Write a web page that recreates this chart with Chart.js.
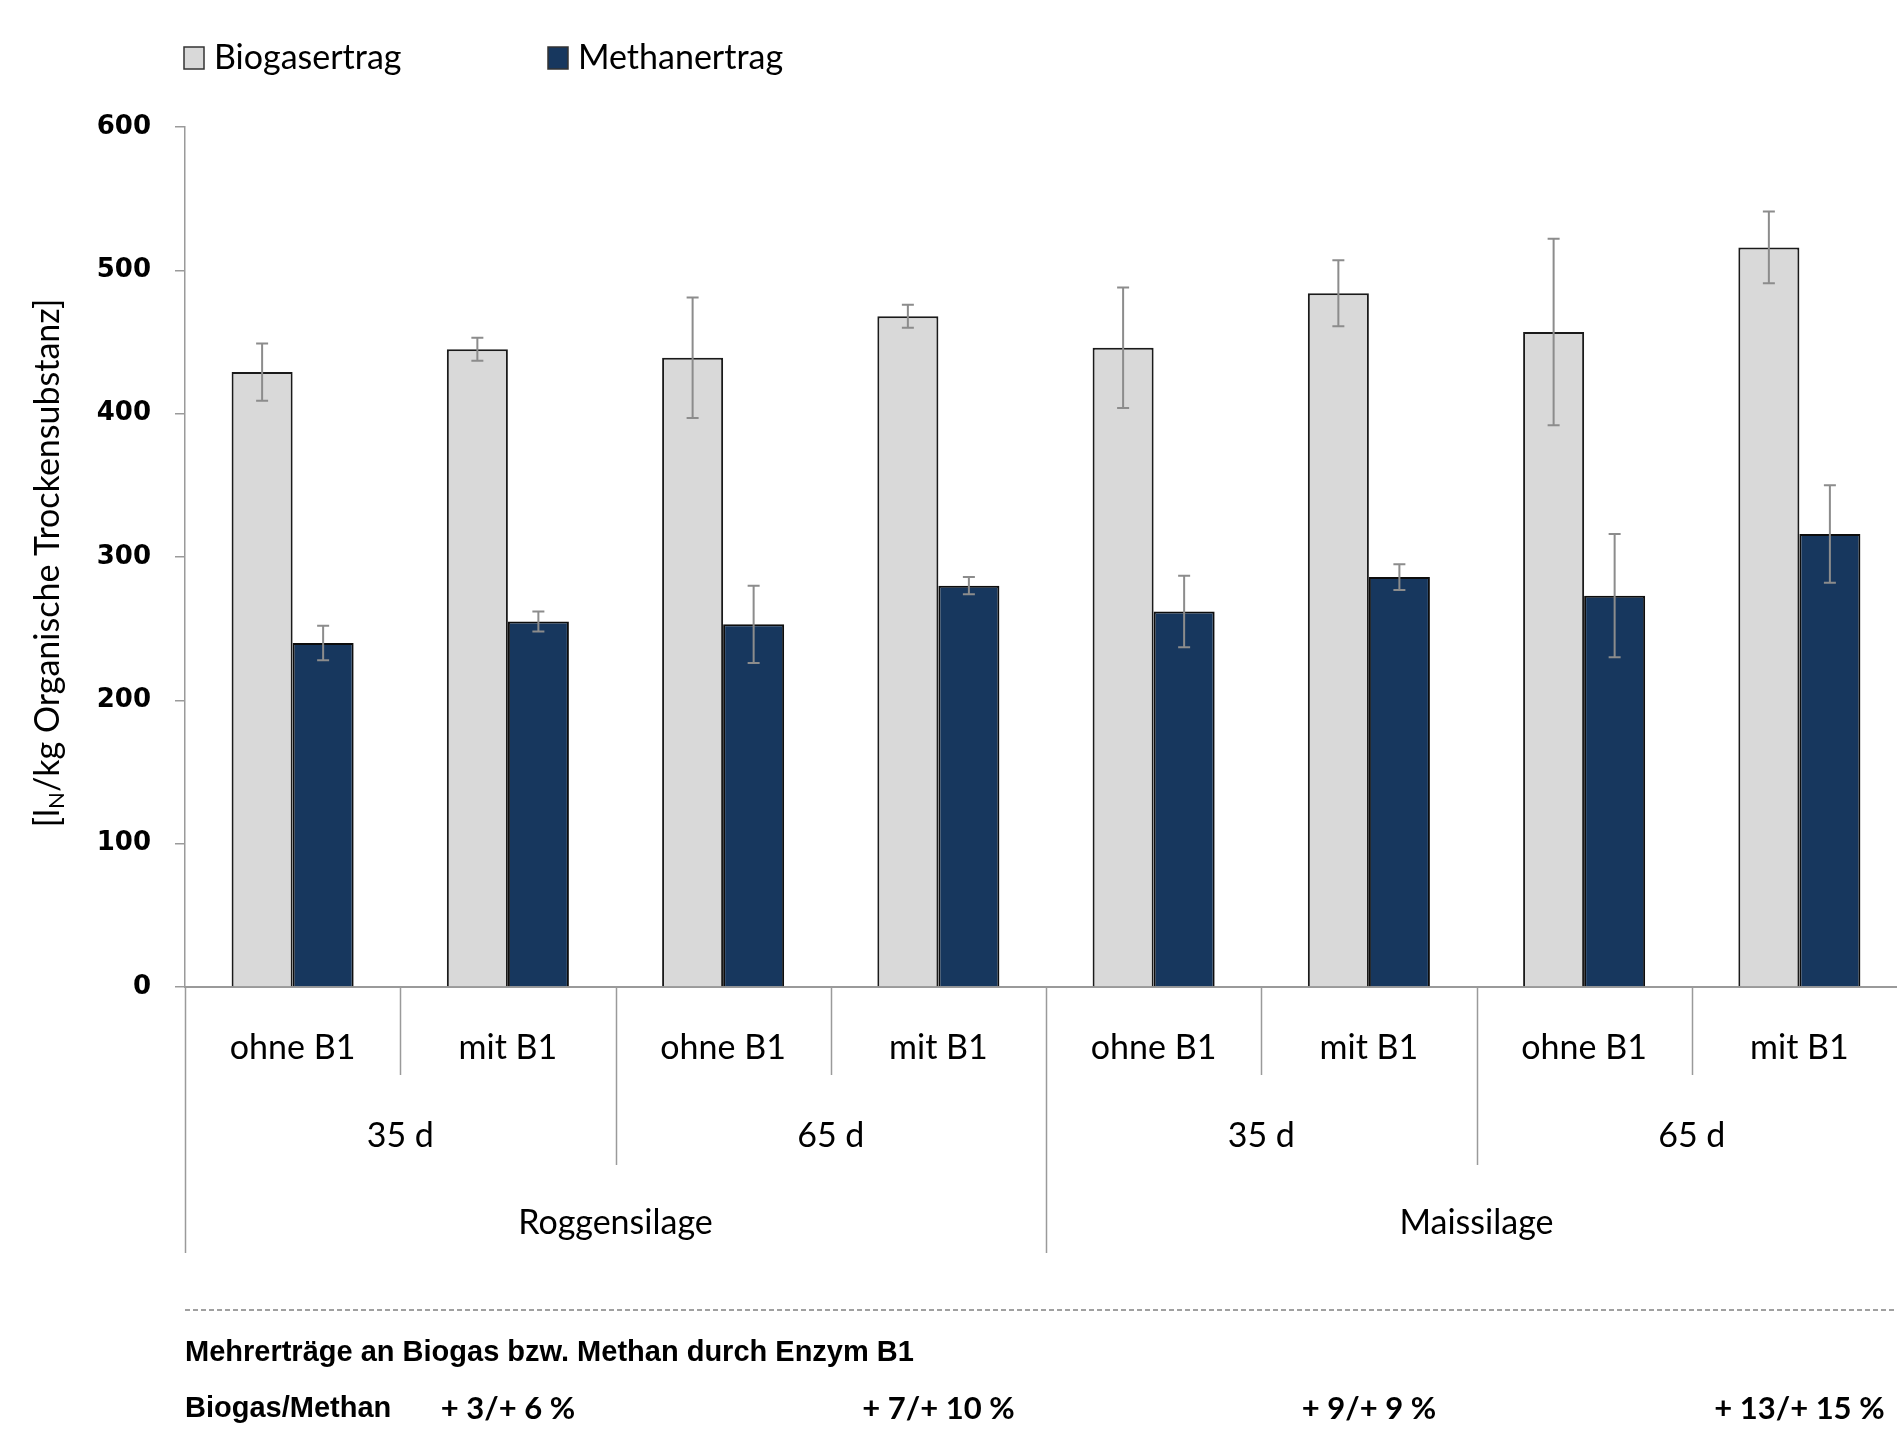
<!DOCTYPE html>
<html>
<head>
<meta charset="utf-8">
<script src="https://cdn.jsdelivr.net/npm/chart.js@4.4.1/dist/chart.umd.min.js"></script>
<style>
  html, body { margin: 0; padding: 0; background: #fff; overflow: hidden; }
  canvas { display: block; }
</style>
</head>
<body>
<canvas id="chart" width="1910" height="1439"></canvas>
<script>
// treatment labels, one per bar pair
var treatments = ["ohne B1", "mit B1", "ohne B1", "mit B1", "ohne B1", "mit B1", "ohne B1", "mit B1"];
// fermentation time, one per two treatments
var durations = ["35 d", "65 d", "35 d", "65 d"];
// silage type, one per four treatments
var silages = ["Roggensilage", "Maissilage"];

var biogas = [429, 445, 439, 468, 446, 484, 457, 516];
var biogasErr = [20, 8, 42, 8, 42, 23, 65, 25];
var methan = [240, 255, 253, 280, 262, 286, 273, 316];
var methanErr = [12, 7, 27, 6, 25, 9, 43, 34];

var gains = ["+ 3/+ 6 %", "+ 7/+ 10 %", "+ 9/+ 9 %", "+ 13/+ 15 %"];

var yTicks = [0, 100, 200, 300, 400, 500, 600];

var GRID_GREY = "#9a9a9a";

Chart.defaults.font.family = "Lato";
Chart.defaults.color = "#000";

// whiskers on top of every bar
var errorBars = {
    id: "errorBars",
    afterDatasetsDraw: function (chart) {
        var ctx = chart.ctx;
        var y = chart.scales.y;
        chart.data.datasets.forEach(function (ds, i) {
            var meta = chart.getDatasetMeta(i);
            meta.data.forEach(function (bar, j) {
                var v = ds.data[j];
                var e = ds.errors[j];
                var top = y.getPixelForValue(v + e);
                var bot = y.getPixelForValue(v - e);
                ctx.save();
                ctx.strokeStyle = "#8c8c8c";
                ctx.lineWidth = 2;
                ctx.beginPath();
                ctx.moveTo(bar.x, top);
                ctx.lineTo(bar.x, bot);
                ctx.moveTo(bar.x - 6, top);
                ctx.lineTo(bar.x + 6, top);
                ctx.moveTo(bar.x - 6, bot);
                ctx.lineTo(bar.x + 6, bot);
                ctx.stroke();
                ctx.restore();
            });
        });
    }
};

// legend, y title, grouped x labels and the footer
var decorations = {
    id: "decorations",
    afterDraw: function (chart) {
        var ctx = chart.ctx;
        var area = chart.chartArea;
        var x = chart.scales.x;
        var base = area.bottom;
        var step = x.getPixelForValue(1) - x.getPixelForValue(0);
        function edge(k) { return x.getPixelForValue(0) - step / 2 + k * step; }

        ctx.save();

        // legend
        var lx = [area.left - 1, area.left + 363];
        chart.data.datasets.forEach(function (ds, i) {
            ctx.fillStyle = ds.backgroundColor;
            ctx.fillRect(lx[i], 47, 20, 22);
            ctx.strokeStyle = "#333";
            ctx.lineWidth = 1.5;
            ctx.strokeRect(lx[i], 47, 20, 22);
            ctx.fillStyle = "#000";
            ctx.font = "34px Lato";
            ctx.textAlign = "left";
            ctx.textBaseline = "middle";
            ctx.fillText(ds.label, lx[i] + 30, 58);
        });

        // y axis title with subscript
        ctx.save();
        ctx.translate(48, (area.top + area.bottom) / 2 + 6);
        ctx.rotate(-Math.PI / 2);
        var parts = [["[l", "34px Lato", 0], ["N", "22px Lato", 9], ["/kg Organische Trockensubstanz]", "34px Lato", 0]];
        var total = 0;
        parts.forEach(function (p) { ctx.font = p[1]; total += ctx.measureText(p[0]).width; });
        var cx = -total / 2;
        ctx.textAlign = "left";
        ctx.textBaseline = "middle";
        parts.forEach(function (p) {
            ctx.font = p[1];
            ctx.fillText(p[0], cx, p[2]);
            cx += ctx.measureText(p[0]).width;
        });
        ctx.restore();

        // separators below the axis
        ctx.strokeStyle = GRID_GREY;
        ctx.lineWidth = 1.5;
        for (var k = 0; k < treatments.length; k++) {
            var len = k % 4 === 0 ? 266 : (k % 2 === 0 ? 178 : 88);
            var px = Math.round(edge(k)) + 0.5;
            ctx.beginPath();
            ctx.moveTo(px, base);
            ctx.lineTo(px, base + len);
            ctx.stroke();
        }

        ctx.fillStyle = "#000";
        ctx.textAlign = "center";
        ctx.textBaseline = "middle";
        ctx.font = "34px Lato";
        durations.forEach(function (d, i) {
            ctx.fillText(d, (edge(i * 2) + edge(i * 2 + 2)) / 2, base + 149);
        });
        silages.forEach(function (s, i) {
            ctx.fillText(s, (edge(i * 4) + edge(i * 4 + 4)) / 2, base + 236);
        });

        // dashed divider
        ctx.save();
        ctx.setLineDash([5, 3]);
        ctx.strokeStyle = "#a0a0a0";
        ctx.lineWidth = 2;
        ctx.beginPath();
        ctx.moveTo(area.left, base + 323);
        ctx.lineTo(chart.width, base + 323);
        ctx.stroke();
        ctx.restore();

        // footer text
        ctx.textAlign = "left";
        ctx.font = "bold 29px 'Liberation Sans'";
        ctx.fillText("Mehrerträge an Biogas bzw. Methan durch Enzym B1", area.left, base + 366);
        ctx.fillText("Biogas/Methan", area.left, base + 422);
        ctx.textAlign = "center";
        ctx.font = "bold 31px Lato";
        gains.forEach(function (g, i) {
            ctx.fillText(g, x.getPixelForValue(i * 2 + 1), base + 422);
        });

        ctx.restore();
    }
};

var ctx = document.getElementById("chart");
var chart = new Chart(ctx, {
    type: "bar",
    data: {
        labels: treatments,
        datasets: [
            {
                label: "Biogasertrag",
                data: biogas,
                errors: biogasErr,
                backgroundColor: "#d9d9d9",
                borderColor: "#1a1a1a",
                borderWidth: 2,
                categoryPercentage: 0.567,
                barPercentage: 1.0
            },
            {
                label: "Methanertrag",
                data: methan,
                errors: methanErr,
                backgroundColor: "#17375e",
                borderColor: "#0d0d0d",
                borderWidth: 2,
                categoryPercentage: 0.567,
                barPercentage: 1.0
            }
        ]
    },
    options: {
        responsive: false,
        animation: false,
        layout: {
            padding: { top: 127, right: 3, left: 0, bottom: 0 }
        },
        plugins: {
            legend: { display: false },
            tooltip: { enabled: false }
        },
        scales: {
            x: {
                grid: { display: false },
                border: { display: true, color: GRID_GREY, width: 2 },
                ticks: {
                    font: { size: 34, family: "Lato" },
                    color: "#000",
                    padding: 33,
                    maxRotation: 0
                },
                afterFit: function (scale) { scale.height = 452; }
            },
            y: {
                min: 0,
                max: 600,
                afterBuildTicks: function (scale) {
                    scale.ticks = yTicks.map(function (v) { return { value: v }; });
                },
                grid: {
                    drawOnChartArea: false,
                    drawTicks: true,
                    tickLength: 10,
                    color: GRID_GREY,
                    lineWidth: 1.5
                },
                border: { display: true, color: GRID_GREY, width: 1.5 },
                ticks: {
                    font: { size: 26, weight: "bold", family: "DejaVu Sans" },
                    color: "#000",
                    padding: 24
                },
                afterFit: function (scale) { scale.width = 185; }
            }
        }
    },
    plugins: [errorBars, decorations]
});
</script>
</body>
</html>
